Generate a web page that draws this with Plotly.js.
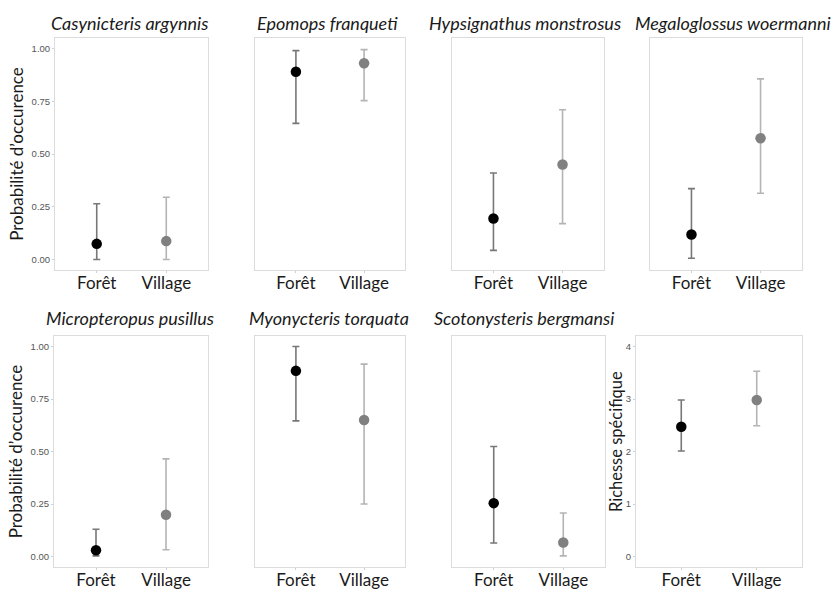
<!DOCTYPE html>
<html><head><meta charset="utf-8">
<script src="https://cdn.plot.ly/plotly-3.0.1.min.js"></script>
<style>html,body{margin:0;padding:0;background:#fff}#chart{width:835px;height:592px}</style>
</head><body><div id="chart"></div>
<script>
// ---------- data ----------
const categories = ['Forêt', 'Village'];
const species = ['Casynicteris argynnis', 'Epomops franqueti', 'Hypsignathus monstrosus', 'Megaloglossus woermanni',
                 'Micropteropus pusillus', 'Myonycteris torquata', 'Scotonysteris bergmansi'];
const forestMean  = [0.074, 0.890, 0.194, 0.118, 0.030, 0.884, 0.254];
const forestLow   = [0.000, 0.645, 0.043, 0.006, 0.003, 0.646, 0.064];
const forestHigh  = [0.264, 0.990, 0.410, 0.336, 0.130, 1.000, 0.524];
const villageMean = [0.087, 0.930, 0.450, 0.575, 0.199, 0.650, 0.067];
const villageLow  = [0.000, 0.753, 0.170, 0.314, 0.032, 0.250, 0.003];
const villageHigh = [0.295, 0.995, 0.710, 0.856, 0.465, 0.916, 0.207];
const richnessMean = [2.47, 2.98];
const richnessLow  = [2.01, 2.49];
const richnessHigh = [2.98, 3.53];
const probTickVals = [0, 0.25, 0.5, 0.75, 1];
const probTickText = ['0.00', '0.25', '0.50', '0.75', '1.00'];
const richTickVals = [0, 1, 2, 3, 4];
const probTitle = 'Probabilité d’occurence';
const richTitle = 'Richesse spécifique';

// ---------- layout geometry (pixels) ----------
const W = 835, H = 592;
const panels = [
  [55, 208, 38, 270], [255, 405, 38, 270], [452, 604, 38, 270], [650, 802, 38, 270],
  [54, 208, 336, 567], [255, 405, 336, 567], [452, 605, 336, 567], [636, 802, 336, 567]
];
const titlePos = [[129.5, 23], [327, 23], [525, 23], [733, 23], [130, 318], [329, 318], [524, 318]];

const catColors = { point: ['#000000', '#808080'], bar: ['#777777', '#b4b4b4'] };
const textFont = 'Lato, "Open Sans", sans-serif';
const numFont = '"Liberation Sans", Arial, sans-serif';

const traces = [];
const layout = {
  width: W, height: H, margin: { l: 0, r: 0, t: 0, b: 0 },
  paper_bgcolor: '#fff', plot_bgcolor: '#fff', showlegend: false,
  annotations: []
};

for (let p = 0; p < 8; p++) {
  const ax = p === 0 ? '' : String(p + 1);
  const isRich = p === 7;
  for (let c = 0; c < 2; c++) {
    let m, lo, hi;
    if (isRich) { m = richnessMean[c]; lo = richnessLow[c]; hi = richnessHigh[c]; }
    else if (c === 0) { m = forestMean[p]; lo = forestLow[p]; hi = forestHigh[p]; }
    else { m = villageMean[p]; lo = villageLow[p]; hi = villageHigh[p]; }
    traces.push({
      type: 'scatter', mode: 'markers',
      x: [categories[c]], y: [m],
      xaxis: 'x' + ax, yaxis: 'y' + ax,
      marker: { color: catColors.point[c], size: 10.5, line: { width: 0 } },
      error_y: { type: 'data', symmetric: false, array: [hi - m], arrayminus: [m - lo],
                 color: catColors.bar[c], thickness: 1.6, width: 3.5 },
      hoverinfo: 'x+y'
    });
  }
  const [x0, x1, y0, y1] = panels[p];
  layout['xaxis' + ax] = {
    domain: [x0 / W, x1 / W], anchor: 'y' + ax,
    type: 'category', categoryorder: 'array', categoryarray: categories,
    range: [-0.6, 1.6], showgrid: false, zeroline: false,
    showline: true, mirror: true, linecolor: '#dcdcdc', linewidth: 1,
    ticks: 'outside', ticklen: 2, tickcolor: '#d0d0d0',
    ticklabelstandoff: -4,
    tickfont: { family: textFont, size: 17, color: '#1a1a1a' },
    fixedrange: true
  };
  const showY = (p === 0 || p === 4 || p === 7);
  layout['yaxis' + ax] = {
    domain: [1 - y1 / H, 1 - y0 / H], anchor: 'x' + ax,
    range: isRich ? [-0.2, 4.2] : [-0.05, 1.05],
    tickmode: 'array',
    tickvals: isRich ? richTickVals : probTickVals,
    ticktext: isRich ? richTickVals.map(String) : probTickText,
    showticklabels: showY,
    ticks: showY ? 'outside' : '', ticklen: 2, tickcolor: '#d0d0d0',
    tickfont: { family: numFont, size: 9.5, color: '#555555' },
    showgrid: false, zeroline: false,
    showline: true, mirror: true, linecolor: '#dcdcdc', linewidth: 1,
    fixedrange: true
  };
  if (showY && !isRich) {
    layout['yaxis' + ax].title = {
      text: probTitle,
      font: { family: textFont, size: 17, color: '#1a1a1a' },
      standoff: 3
    };
    layout['yaxis' + ax].automargin = false;
  }
  if (p < 7) {
    layout.annotations.push({
      text: '<i>' + species[p] + '</i>', xref: 'paper', yref: 'paper',
      x: titlePos[p][0] / W, y: 1 - titlePos[p][1] / H,
      xanchor: 'center', yanchor: 'middle', showarrow: false,
      font: { family: textFont, size: 18, color: '#1a1a1a' }
    });
  }
}
// y-axis title of the richness panel (placed slightly above the panel centre, as in the reference)
layout.annotations.push({
  text: richTitle, xref: 'paper', yref: 'paper',
  x: 616 / W, y: 1 - 442 / H, xanchor: 'center', yanchor: 'middle',
  textangle: -90, showarrow: false,
  font: { family: textFont, size: 16.5, color: '#1a1a1a' }
});

Plotly.newPlot('chart', traces, layout, { displayModeBar: false });
</script>
</body></html>
